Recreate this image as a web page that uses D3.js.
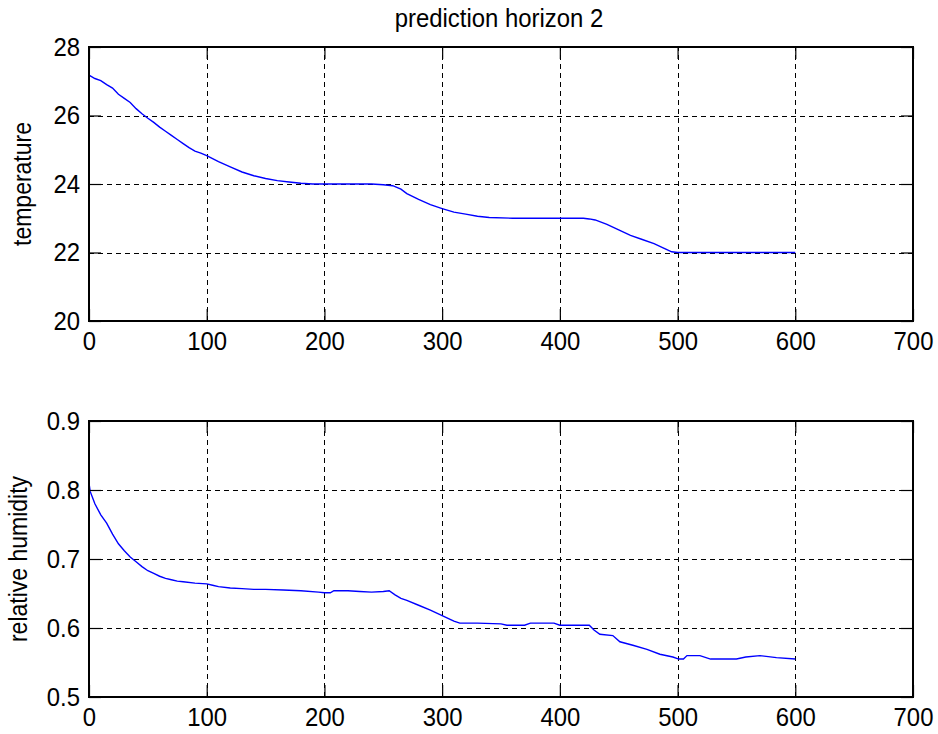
<!DOCTYPE html>
<html>
<head>
<meta charset="utf-8">
<script src="https://cdn.jsdelivr.net/npm/d3@7"></script>
<style>
  html, body { margin: 0; padding: 0; background: #fff; }
  svg { display: block; }
  text { font-family: "Liberation Sans", Arial, Helvetica, sans-serif; fill: #000; }
</style>
</head>
<body>
<svg id="chart" width="938" height="734"></svg>
<script>
// Simulation time steps and controlled outputs
const titleText = "prediction horizon 2";
const xTicks = [0, 100, 200, 300, 400, 500, 600, 700];

const tempTime = [0, 5, 10, 15, 20, 25, 30, 35, 40, 45, 50, 55, 60, 65, 70, 75, 80, 85, 90, 95,
  100, 110, 120, 130, 140, 150, 160, 170, 180, 190, 200, 220, 240, 250, 258, 265, 270, 280, 290,
  300, 310, 320, 330, 340, 360, 380, 400, 420, 425, 430, 440, 450, 460, 470, 480, 490, 495, 500,
  520, 560, 600];
const tempValues = [27.18, 27.08, 27.02, 26.90, 26.80, 26.62, 26.50, 26.38, 26.20, 26.05, 25.92,
  25.80, 25.66, 25.54, 25.42, 25.30, 25.18, 25.06, 24.96, 24.90, 24.83, 24.65, 24.50, 24.35, 24.24,
  24.16, 24.10, 24.06, 24.02, 24.00, 24.00, 24.00, 24.00, 23.98, 23.95, 23.85, 23.72, 23.55, 23.40,
  23.28, 23.18, 23.12, 23.06, 23.02, 23.00, 23.00, 23.00, 23.00, 22.98, 22.95, 22.82, 22.66, 22.50,
  22.38, 22.26, 22.10, 22.02, 22.00, 22.00, 22.00, 22.00];
const tempTicks = [20, 22, 24, 26, 28];

const humTime = [0, 1, 5, 10, 15, 20, 25, 30, 35, 40, 45, 50, 55, 60, 65, 70, 75, 80, 90, 100,
  105, 110, 120, 130, 140, 150, 165, 180, 195, 200, 205, 208, 220, 230, 240, 250, 255, 260, 265,
  270, 280, 290, 300, 310, 315, 330, 350, 355, 370, 375, 395, 400, 425, 429, 434, 445, 451, 462,
  474, 485, 496, 501, 505, 508, 519, 528, 550, 558, 570, 584, 600];
const humValues = [0.810, 0.798, 0.780, 0.764, 0.752, 0.736, 0.722, 0.712, 0.703, 0.696, 0.689,
  0.683, 0.679, 0.675, 0.672, 0.670, 0.668, 0.667, 0.665, 0.664, 0.662, 0.660, 0.658, 0.657, 0.656,
  0.656, 0.655, 0.654, 0.652, 0.651, 0.651, 0.654, 0.654, 0.653, 0.652, 0.653, 0.654, 0.648, 0.643,
  0.640, 0.633, 0.626, 0.618, 0.610, 0.607, 0.607, 0.606, 0.604, 0.604, 0.607, 0.607, 0.604, 0.604,
  0.597, 0.591, 0.589, 0.580, 0.575, 0.569, 0.562, 0.558, 0.555, 0.555, 0.560, 0.560, 0.555, 0.555,
  0.558, 0.560, 0.557, 0.555];
const humTicks = [0.5, 0.6, 0.7, 0.8, 0.9];

const svg = d3.select("#chart");
svg.append("rect").attr("width", 938).attr("height", 734).attr("fill", "#fff");

const FONT = 26;       // tick / title font size
const SQUEEZE = 0.92;  // narrow glyphs
const TICK_LEN = 12;

function panel(opts) {
  const { left, right, top, bottom, times, values, yDomain, yTicks, yFormat, ylabel, ylabelX } = opts;
  const w = right - left, h = bottom - top;
  const x = d3.scaleLinear().domain([0, 700]).range([0, w]);
  const y = d3.scaleLinear().domain(yDomain).range([h, 0]);
  const g = svg.append("g").attr("transform", `translate(${left},${top})`);

  // dashed grid
  const grid = g.append("g").attr("class", "grid");
  grid.append("g").attr("transform", `translate(0,${h})`)
    .call(d3.axisBottom(x).tickValues(xTicks.slice(1, -1)).tickSize(-h).tickFormat(""));
  grid.append("g")
    .call(d3.axisLeft(y).tickValues(yTicks.slice(1, -1)).tickSize(-w).tickFormat(""));
  grid.selectAll(".domain").remove();
  grid.selectAll("line").attr("stroke", "#000").attr("stroke-width", 1)
    .attr("stroke-dasharray", "5,4").attr("shape-rendering", "crispEdges");

  // data line
  const pts = times.map((t, i) => [t, values[i]]);
  g.append("path").datum(pts)
    .attr("fill", "none").attr("stroke", "#0000ff").attr("stroke-width", 1.4)
    .attr("d", d3.line().x(d => x(d[0])).y(d => y(d[1])));

  // inward ticks on all four sides
  const axB = g.append("g").attr("transform", `translate(0,${h})`)
    .call(d3.axisBottom(x).tickValues(xTicks).tickSizeInner(-TICK_LEN).tickSizeOuter(0).tickPadding(11 + TICK_LEN));
  const axT = g.append("g")
    .call(d3.axisTop(x).tickValues(xTicks).tickSizeInner(-TICK_LEN).tickSizeOuter(0).tickFormat(""));
  const axL = g.append("g")
    .call(d3.axisLeft(y).tickValues(yTicks).tickSizeInner(-TICK_LEN).tickSizeOuter(0).tickPadding(9 + TICK_LEN).tickFormat(yFormat));
  const axR = g.append("g").attr("transform", `translate(${w},0)`)
    .call(d3.axisRight(y).tickValues(yTicks).tickSizeInner(-TICK_LEN).tickSizeOuter(0).tickFormat(""));

  [axB, axT, axL, axR].forEach(a => {
    a.select(".domain").remove();
    a.selectAll("line").attr("stroke", "#000").attr("stroke-width", 1.2);
    a.selectAll("text").attr("font-size", FONT).attr("fill", "#000")
      .attr("font-family", "Liberation Sans, Arial, sans-serif")
      .attr("transform", `scale(${SQUEEZE},1)`);
  });
  axB.selectAll("text").attr("x", 0);
  // y tick labels: keep the right edge fixed under the squeeze
  axL.selectAll("text").attr("x", -(9) / SQUEEZE);
  axB.selectAll("text").attr("y", 11);

  // box
  g.append("rect").attr("width", w).attr("height", h)
    .attr("fill", "none").attr("stroke", "#000").attr("stroke-width", 1.2)
    .attr("shape-rendering", "crispEdges");

  // y label
  svg.append("text")
    .attr("transform", `translate(${ylabelX},${top + h / 2}) rotate(-90) scale(${SQUEEZE},1)`)
    .attr("text-anchor", "middle").attr("font-size", 25)
    .text(ylabel);

  return { g, x, y };
}

panel({
  left: 89, right: 913, top: 47, bottom: 321,
  times: tempTime, values: tempValues,
  yDomain: [20, 28], yTicks: tempTicks, yFormat: d3.format("d"),
  ylabel: "temperature", ylabelX: 31
});

panel({
  left: 89, right: 913, top: 421, bottom: 697,
  times: humTime, values: humValues,
  yDomain: [0.5, 0.9], yTicks: humTicks, yFormat: d3.format(".1f"),
  ylabel: "relative humidity", ylabelX: 27
});

svg.append("text")
  .attr("transform", `translate(499,27) scale(${SQUEEZE},1)`)
  .attr("text-anchor", "middle").attr("font-size", FONT)
  .text(titleText);
</script>
</body>
</html>
